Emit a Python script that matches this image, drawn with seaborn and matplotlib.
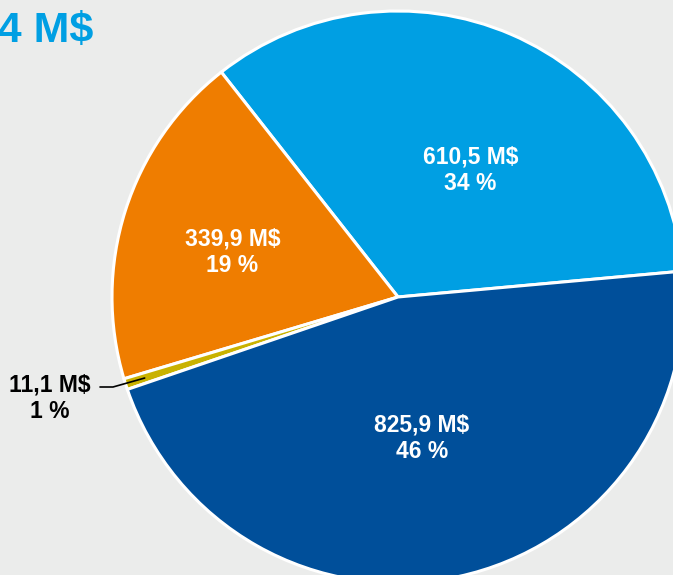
import numpy as np
import seaborn as sns
import matplotlib.pyplot as plt

# slices, counter-clockwise from the right
values = [610.5, 339.9, 11.1, 825.9]
value_labels = ["610,5 M$", "339,9 M$", "11,1 M$", "825,9 M$"]
pct_labels = ["34 %", "19 %", "1 %", "46 %"]
colors = ["#009fe3", "#ef7d00", "#c9b200", "#004f9a"]
title = "1 787,4 M$"

bg = "#ebeceb"
sns.set_theme(style="white", rc={"axes.facecolor": bg, "figure.facecolor": bg})
plt.rcParams["font.family"] = ["Liberation Sans", "DejaVu Sans"]

fig = plt.figure(figsize=(6.73, 5.75), dpi=100)
ax = fig.add_axes([0, 0, 1, 1])

start = 5.2
wedges, _ = ax.pie(values, colors=colors, startangle=start, counterclock=True,
                   radius=1.0, wedgeprops=dict(edgecolor="white", linewidth=2.2))

# pixel -> data: 1 unit = 286 px, centre at (398, 297)
scale = 286.0
cx, cy = 398.0, 297.0
ax.set_xlim((0 - cx) / scale, (673 - cx) / scale)
ax.set_ylim(-(575 - cy) / scale, (cy - 0) / scale)
ax.set_aspect("auto")
ax.axis("off")

# label radius / angle offset per big slice
label_pos = {0: (0.51, -6.5), 1: (0.60, 2.5), 3: (0.50, -2.5)}
for i, w in enumerate(wedges):
    if i not in label_pos:
        continue
    r, dang = label_pos[i]
    ang = np.deg2rad((w.theta1 + w.theta2) / 2 + dang)
    ax.text(r * np.cos(ang), r * np.sin(ang), value_labels[i] + "\n" + pct_labels[i],
            ha="center", va="center", color="white", fontsize=16.5, fontweight="bold",
            linespacing=1.22)

# small slice with a leader line
w = wedges[2]
ang = np.deg2rad((w.theta1 + w.theta2) / 2)
tip = (0.93 * np.cos(ang), 0.93 * np.sin(ang))
p1 = ((113 - cx) / scale, (cy - 387) / scale)
p0 = ((100 - cx) / scale, (cy - 387) / scale)
ax.plot([p0[0], p1[0], tip[0]], [p0[1], p1[1], tip[1]], color="black", lw=1.2)
ax.text((91 - cx) / scale, (cy - 398) / scale, value_labels[2] + "\n" + pct_labels[2],
        ha="right", va="center", multialignment="center", color="black",
        fontsize=16.5, fontweight="bold", linespacing=1.22)

ax.text((93 - cx) / scale, (cy - 41) / scale, title, ha="right", va="baseline",
        color="#009fe3", fontsize=31, fontweight="bold")

fig.savefig("out.png", dpi=100, facecolor=bg)
